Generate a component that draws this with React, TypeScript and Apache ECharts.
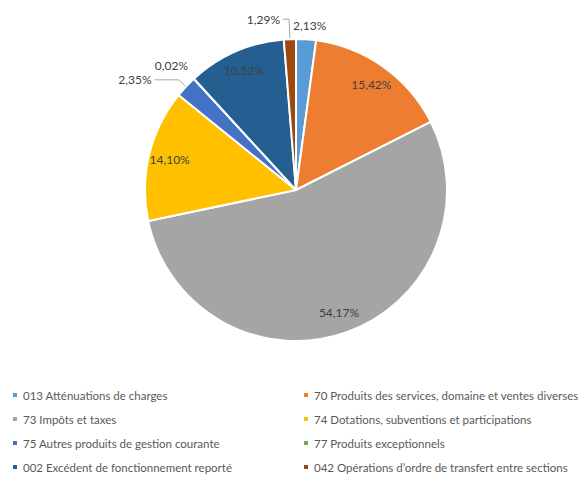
import React, { useEffect, useRef } from "react";
import * as echarts from "echarts";

const categories = [
  "013 Atténuations de charges",
  "70 Produits des services, domaine et ventes diverses",
  "73 Impôts et taxes",
  "74 Dotations, subventions et participations",
  "75 Autres produits de gestion courante",
  "77 Produits exceptionnels",
  "002 Excédent de fonctionnement reporté",
  "042 Opérations d’ordre de transfert entre sections",
];
const values = [2.13, 15.42, 54.17, 14.1, 2.35, 0.02, 10.52, 1.29];
const colors = ["#5B9BD5", "#ED7D31", "#A5A5A5", "#FFC000", "#4472C4", "#70AD47", "#255E91", "#9E480E"];
const insideLabel = [false, true, true, true, false, false, true, false];

const FONT = "Lato, 'Liberation Sans', sans-serif";
const fmt = (v: number) => `${v.toFixed(2).replace(".", ",")}%`;

// per-item leader line styling for outside labels
const outsideLine: Record<number, { length: number; length2: number; show: boolean }> = {
  0: { length: 14, length2: 0, show: false },
  4: { length: 10, length2: 24, show: true },
  5: { length: 22, length2: 0, show: false },
  7: { length: 20, length2: 6, show: true },
};
// small nudges for line-less labels
const labelNudge: Record<number, { dx: number; dy: number }> = {
  0: { dx: -17, dy: 0 },
  5: { dx: 12, dy: 3 },
};

export default function App() {
  const ref = useRef<HTMLDivElement>(null);
  useEffect(() => {
    if (!ref.current) return;
    const chart = echarts.init(ref.current, undefined, { renderer: "svg" });
    const center = [296, 190];
    const mainData = categories.map((name, i) => {
      const out = outsideLine[i];
      return {
        name,
        value: values[i],
        itemStyle: { color: colors[i] },
        label: out
          ? { show: true, position: "outside" as const }
          : { show: false },
        labelLine: out
          ? { show: out.show, length: out.length, length2: out.length2 }
          : { show: false },
      };
    });
    const ringData = categories.map((name, i) => ({
      name,
      value: values[i],
      itemStyle: { color: "rgba(0,0,0,0)", borderWidth: 0 },
      label: { show: insideLabel[i] },
    }));
    const legendBase = {
      orient: "vertical" as const,
      top: 388,
      height: 89,
      padding: 0,
      itemWidth: 6,
      itemHeight: 6,
      itemGap: 10,
      icon: "rect",
      selectedMode: false,
      textStyle: { fontSize: 11.5, lineHeight: 14, color: "#595959", fontFamily: FONT },
    };
    chart.setOption({
      animation: false,
      backgroundColor: "#ffffff",
      legend: [
        { ...legendBase, left: 11, data: [0, 2, 4, 6].map((i) => categories[i]) },
        { ...legendBase, left: 302, data: [1, 3, 5, 7].map((i) => categories[i]) },
      ],
      series: [
        {
          type: "pie",
          center,
          radius: [0, 151],
          startAngle: 90,
          clockwise: true,
          avoidLabelOverlap: true,
          itemStyle: { borderColor: "#ffffff", borderWidth: 2 },
          label: {
            fontSize: 12,
            color: "#404040",
            fontFamily: FONT,
            formatter: (p: any) => fmt(p.value),
            distanceToLabelLine: 3,
          },
          labelLine: { lineStyle: { color: "#A6A6A6", width: 1 } },
          labelLayout: (p: any) => {
            const n = labelNudge[p.dataIndex];
            return n ? { dx: n.dx, dy: n.dy } : {};
          },
          emphasis: { disabled: true },
          data: mainData,
        },
        {
          type: "pie",
          center,
          radius: [103, 151],
          startAngle: 90,
          clockwise: true,
          silent: true,
          label: {
            position: "inside",
            fontSize: 12,
            color: "#404040",
            fontFamily: FONT,
            formatter: (p: any) => fmt(p.value),
          },
          labelLine: { show: false },
          emphasis: { disabled: true },
          data: ringData,
        },
      ],
    });
    return () => chart.dispose();
  }, []);
  return (
    <div
      ref={ref}
      style={{ position: "absolute", left: 0, top: 0, width: 588, height: 477 }}
    />
  );
}
